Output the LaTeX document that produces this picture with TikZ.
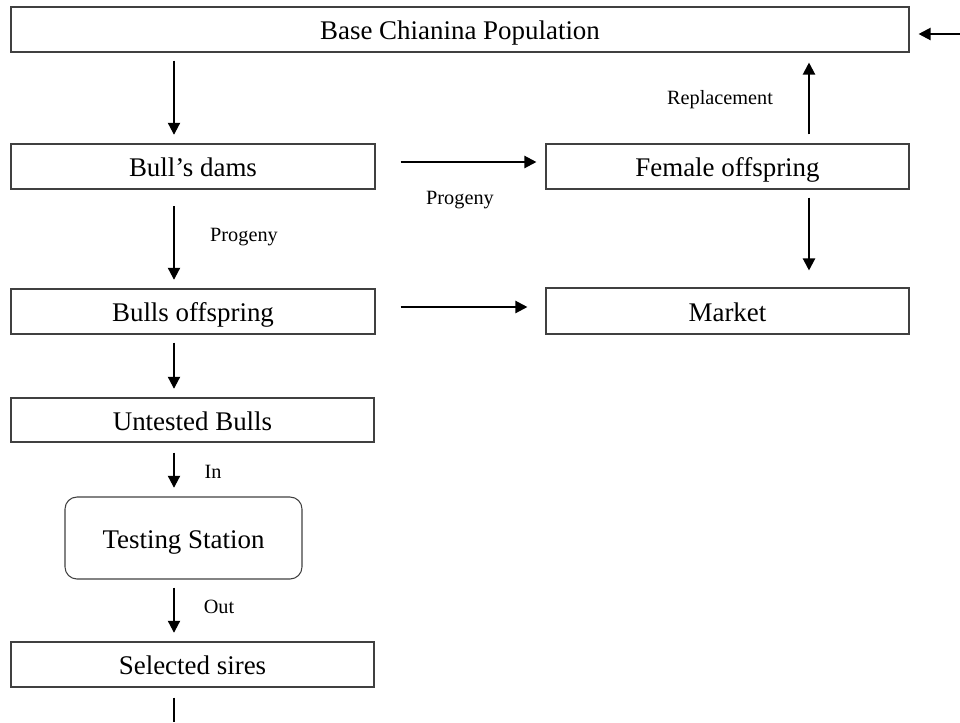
\documentclass[tikz,border=0pt]{standalone}
\usepackage{fontspec}
\setmainfont{Liberation Serif}
\usetikzlibrary{arrows.meta}
\begin{document}
\begin{tikzpicture}[x=0.75pt,y=-0.75pt,
  box/.style={draw=black!75,line width=0.8pt,inner sep=0pt,minimum height=33.75pt,
    text height=15pt,text depth=0pt,
    font=\fontsize{20.2}{24}\selectfont},
  lbl/.style={font=\fontsize{15.2}{18}\selectfont,inner sep=0pt},
  arr/.style={line width=1.6pt,-{Triangle[length=9pt,width=9pt]}},
  plain/.style={line width=0.8pt}]
\useasboundingbox (0,0) rectangle (960,722);
\node[box,minimum width=673.5pt] (base) at (460,29.5) {Base Chianina Population};
\node[box,minimum width=273pt] (dams) at (193,166.5) {Bull’s dams};
\node[box,minimum width=272.25pt] (female) at (727.5,166.5) {Female offspring};
\node[box,minimum width=273pt] (boff) at (193,311.5) {Bulls offspring};
\node[box,minimum width=272.25pt,minimum height=34.5pt] (market) at (727.5,311) {Market};
\node[box,minimum width=272.25pt,minimum height=33pt] (untested) at (192.5,420) {Untested Bulls};
\node[box,minimum width=177.75pt,minimum height=61.5pt,rounded corners=9pt] (testing) at (183.5,538) {Testing Station};
\node[box,minimum width=272.25pt] (sires) at (192.5,664.5) {Selected sires};
\coordinate (ax) at (174,0);
\coordinate (rx) at (809,0);
\coordinate (ry) at (0,34);
\coordinate (rightend) at (960,34);
\coordinate (bottomend) at (174,722);
% vertical chain
\draw[arr,shorten <=6pt,shorten >=6.5pt] (base.south -| ax) -- (dams.north -| ax);
\draw[arr,shorten <=12.5pt,shorten >=6.5pt] (dams.south -| ax) -- (boff.north -| ax);
\draw[arr,shorten <=6pt,shorten >=6.5pt] (boff.south -| ax) -- (untested.north -| ax);
\draw[arr,shorten <=7.5pt,shorten >=6.5pt] (untested.south -| ax) -- (testing.north -| ax);
\draw[arr,shorten <=6pt,shorten >=6.5pt] (testing.south -| ax) -- (sires.north -| ax);
\draw[plain,shorten <=7.5pt] (sires.south -| ax) -- (bottomend);
% horizontal arrows
\draw[arr,shorten <=18.75pt,shorten >=6.75pt] (dams.east |- female.west) ++(0,-4.5) coordinate (d1) (d1) -- (d1 -| female.west);
\draw[arr,shorten <=18.75pt,shorten >=13.5pt] (boff.east) ++(0,-4.5) coordinate (b1) (b1) -- (b1 -| market.west);
% right column
\draw[arr,shorten <=6.75pt,shorten >=7.5pt] (female.north -| rx) -- (base.south -| rx);
\draw[arr,shorten <=6pt,shorten >=12.75pt] (female.south -| rx) -- (market.north -| rx);
\draw[arr,shorten >=6.75pt] (rightend) -- (base.east |- ry);
% labels
\node[lbl] (l1) at (460,200) {Progeny};
\node[lbl] (l2) at (244,237) {Progeny};
\node[lbl] (l3) at (720,100) {Replacement};
\node[lbl] (l4) at (213,472) {In};
\node[lbl] (l5) at (219,607) {Out};
\end{tikzpicture}
\end{document}
